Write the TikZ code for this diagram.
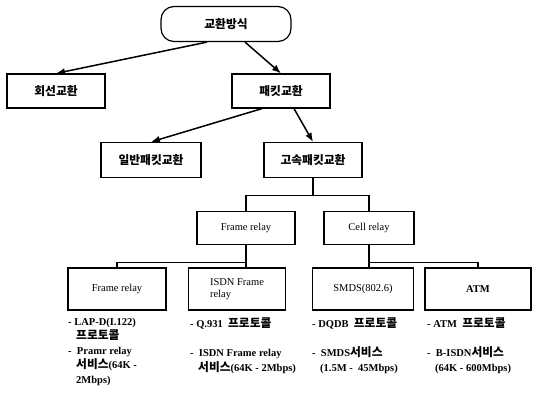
\documentclass[tikz,border=0pt]{standalone}
\usepackage{fontspec}
\setmainfont{Liberation Serif}
\newfontfamily\krfont{Noto Sans CJK KR}[Scale=1.12]
\newcommand{\kr}[1]{{\krfont\bfseries #1}}
\usetikzlibrary{positioning,arrows.meta}

\tikzset{
  box/.style={draw,line width=1.2pt,minimum height=34pt,minimum width=98pt,inner sep=2pt,
    font=\fontsize{10.5}{12}\selectfont},
  rootbox/.style={box,rounded corners=13pt,minimum width=130pt,minimum height=35pt},
  relaybox/.style={box,minimum height=33pt},
  leafbox/.style={box,minimum height=42pt},
  note/.style={anchor=north west,align=left,inner sep=0pt,
    font=\fontsize{10.5}{14.5}\selectfont\bfseries},
  arr/.style={-{Latex[length=9pt,width=7pt]},line width=1.5pt},
  link/.style={line width=1.2pt}
}

\begin{document}
\begin{tikzpicture}[x=1pt,y=-1pt]
    \useasboundingbox (0,0) rectangle (541,397);
    % top levels
    \node[rootbox] (root) at (226,24) {\kr{교환방식}};
    \node[box] (circuit) at (56,91) {\kr{회선교환}};
    \node[box] (packet) at (281,91) {\kr{패킷교환}};
    \node[box, minimum width=100pt, minimum height=35pt] (normal) at (151,160) {\kr{일반패킷교환}};
    \node[box, minimum height=35pt] (fast) at (313,160) {\kr{고속패킷교환}};
    \draw[arr] ([xshift=-19pt]root.south) -- (circuit.north);
    \draw[arr] ([xshift=19pt]root.south) -- (packet.north);
    \draw[arr] ([xshift=-19pt]packet.south) -- (normal.north);
    \draw[arr] ([xshift=13pt]packet.south) -- (fast.north);
    % relay level
    \node[relaybox] (frame) at (246,228) {Frame relay};
    \node[relaybox, minimum width=90pt] (cell) at (369,228) {Cell relay};
    \coordinate (fastjoin) at ([yshift=-17pt]fast.south);
    \draw[link] (fast.south) -- (fastjoin) -| (frame.north);
    \draw[link] (fastjoin) -| (cell.north);
    % leaves
    \node[leafbox] (frlap) at (117,289) {Frame relay};
    \node[leafbox, minimum width=97pt, align=left] (isdn) at (237,289) {ISDN Frame\\relay};
    \node[leafbox, minimum width=101pt] (smds) at (363,289) {SMDS(802.6)};
    \node[leafbox, minimum width=106pt, font=\fontsize{10.5}{12}\selectfont\bfseries] (atm) at (478,289) {ATM};
    \coordinate (framejoin) at ([yshift=-17pt]frame.south);
    \coordinate (celljoin) at ([yshift=-17pt]cell.south);
    \draw[link] (frame.south) -- (frame.south |- isdn.north);
    \draw[link] (framejoin) -| (frlap.north);
    \draw[link] (cell.south) -- (cell.south |- smds.north);
    \draw[link] (celljoin) -| (atm.north);
    % notes
    \node[note] (note1) at (68,318) {- LAP-D(I.122)\\\hspace{8pt}\kr{프로토콜}\\- \ Pramr relay\\\hspace{8pt}\kr{서비스}(64K -\\\hspace{8pt}2Mbps)};
    \node[note] (note2) at (190,318) {- Q.931 \ \kr{프로토콜}\\[14.5pt]- \ ISDN Frame relay\\\hspace{8pt}\kr{서비스}(64K - 2Mbps)};
    \node[note] (note3) at (312,318) {- DQDB \ \kr{프로토콜}\\[14.5pt]- \ SMDS\kr{서비스}\\\hspace{8pt}(1.5M - \ 45Mbps)};
    \node[note] (note4) at (427,318) {- ATM \ \kr{프로토콜}\\[14.5pt]- \ B-ISDN\kr{서비스}\\\hspace{8pt}(64K - 600Mbps)};
\end{tikzpicture}
\end{document}
